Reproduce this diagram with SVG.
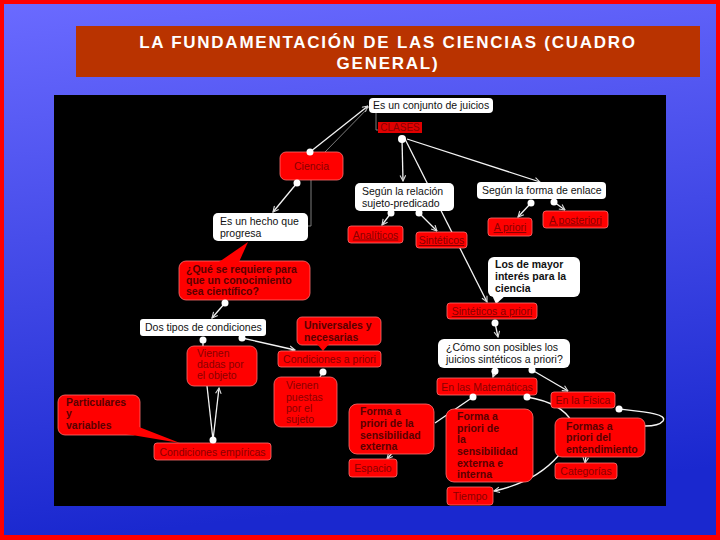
<svg xmlns="http://www.w3.org/2000/svg" width="720" height="540" viewBox="0 0 720 540">
<defs>
<linearGradient id="bg" x1="0" y1="0" x2="0.15" y2="1">
<stop offset="0" stop-color="#6a6aff"/>
<stop offset="1" stop-color="#1a28cf"/>
</linearGradient>
<marker id="arr" viewBox="0 0 10 10" refX="9" refY="5" markerWidth="7" markerHeight="7" orient="auto" markerUnits="userSpaceOnUse">
<path d="M1,1 L9,5 L1,9" fill="none" stroke="#d8d8d8" stroke-width="1.6"/>
</marker>
<style>
.w{fill:#ffffff}
.r{fill:#ff0000;stroke:#ff7070;stroke-width:0.8}
.t{font-family:"Liberation Sans",Arial,sans-serif;font-size:10.5px;fill:#111}
.tb{font-family:"Liberation Sans",Arial,sans-serif;font-size:10.5px;font-weight:bold;fill:#111}
.rt{font-family:"Liberation Sans",Arial,sans-serif;font-size:10.5px;fill:#8a0000}
.rb{font-family:"Liberation Sans",Arial,sans-serif;font-size:10.5px;font-weight:bold;fill:#5a0000}
.u{text-decoration:underline}
.c{text-anchor:middle}
.ln{fill:none;stroke:#f4f4f4;stroke-width:1.3}
.gl{fill:none;stroke:#8a8a8a;stroke-width:0.9}
.dot{fill:#ffffff}
</style>
</defs>
<rect x="0" y="0" width="720" height="540" fill="#ff0000"/>
<rect x="4" y="4" width="712" height="531" fill="url(#bg)"/>
<g id="title">
<rect x="76" y="26" width="624" height="51" fill="#b93300"/>
<text x="388" y="48" text-anchor="middle" font-family="'Liberation Sans',Arial,sans-serif" font-size="17" font-weight="bold" letter-spacing="1.75" fill="#ffffff">LA FUNDAMENTACIÓN DE LAS CIENCIAS (CUADRO</text>
<text x="388" y="69" text-anchor="middle" font-family="'Liberation Sans',Arial,sans-serif" font-size="17" font-weight="bold" letter-spacing="1.75" fill="#ffffff">GENERAL)</text>
</g>
<rect id="panel" x="54" y="95" width="612" height="411" fill="#000000"/>
<g id="connectors">
<path class="ln" d="M310,152 L368,106" marker-end="url(#arr)"/>
<path class="gl" d="M325,152 L372,104"/>
<path class="gl" d="M376,113 L376,130 L378,130"/>
<path class="ln" d="M402,139 L403,181" marker-end="url(#arr)"/>
<path class="ln" d="M405,139 L487,302" marker-end="url(#arr)"/>
<path class="ln" d="M407,139 L540,182" marker-end="url(#arr)"/>
<path class="ln" d="M297,183 L273,212" marker-end="url(#arr)"/>
<path class="gl" d="M311,180 L311,226 L308,226"/>
<path class="ln" d="M391,213 L382,225" marker-end="url(#arr)"/>
<path class="ln" d="M419,213 L437,231" marker-end="url(#arr)"/>
<path class="ln" d="M531,203 L518,217" marker-end="url(#arr)"/>
<path class="ln" d="M554,202 L565,210" marker-end="url(#arr)"/>
<path class="ln" d="M495,323 L498,337" marker-end="url(#arr)"/>
<path class="ln" d="M495,371 L493,377" marker-end="url(#arr)"/>
<path class="ln" d="M532,370 L568,391" marker-end="url(#arr)"/>
<path class="ln" d="M473,397 L435,423"/>
<path class="ln" d="M393,452 L387,459" marker-end="url(#arr)"/>
<path class="ln" d="M527,397 Q562,403 572,422 L559,455 Q536,482 494,491" marker-end="url(#arr)"/>
<path class="ln" d="M619,409 C645,412 668,414 663,421 C659,426 650,426 645,426"/>
<path class="ln" d="M586,456 L585,463" marker-end="url(#arr)"/>
<path class="ln" d="M225,303 L212,318" marker-end="url(#arr)"/>
<path class="ln" d="M203,340 L203,346"/>
<path class="ln" d="M242,338 L295,350" marker-end="url(#arr)"/>
<path class="ln" d="M323,372 L320,377"/>
<path class="ln" d="M213,440 L207,386"/>
<path class="ln" d="M213,440 L219,388" marker-end="url(#arr)"/>
</g>
<g id="n-conjunto"><rect class="w" x="369" y="98" width="124" height="15" rx="4"/><text class="t" x="373" y="109">Es un conjunto de juicios</text></g>
<g id="n-clases"><rect x="378" y="122" width="44" height="11" fill="#e00000"/><text class="rt c" x="400" y="131" font-size="10" style="font-size:10px" fill="#6a0000">CLASES</text></g>
<g id="n-ciencia"><rect class="r" x="280" y="152" width="63" height="28" rx="6"/><text class="rt c" x="311.5" y="169.5">Ciencia</text></g>
<g id="n-relacion"><rect class="w" x="355" y="183" width="99" height="28" rx="5"/><text class="t" x="362" y="195">Según la relación</text><text class="t" x="362" y="207">sujeto-predicado</text></g>
<g id="n-enlace"><rect class="w" x="477" y="182" width="129" height="17" rx="4"/><text class="t" x="482" y="194">Según la forma de enlace</text></g>
<g id="n-apriori"><rect class="r" x="488" y="218" width="44" height="18" rx="3"/><text class="rt c u" x="510" y="231">A priori</text></g>
<g id="n-aposteriori"><rect class="r" x="543" y="211" width="65" height="17" rx="3"/><text class="rt c u" x="575.5" y="223.5">A posteriori</text></g>
<g id="n-interes"><rect class="w" x="488" y="257" width="92" height="40" rx="6"/><polygon class="w" points="492,295 496,304 506,295"/><text class="tb" x="495" y="268">Los de mayor</text><text class="tb" x="495" y="280">interés para la</text><text class="tb" x="495" y="292">ciencia</text></g>
<g id="n-analiticos"><rect class="r" x="348" y="226" width="55" height="17" rx="3"/><text class="rt c u" x="375.5" y="238.5">Analíticos</text></g>
<g id="n-sinteticos"><rect class="r" x="416" y="232" width="51" height="16" rx="3"/><text class="rt c u" x="441.5" y="244">Sintéticos</text></g>
<g id="n-hecho"><rect class="w" x="213" y="213" width="95" height="28" rx="5"/><text class="t" x="220" y="225">Es un hecho que</text><text class="t" x="220" y="236.5">progresa</text></g>
<g id="n-requiere"><rect class="r" x="179" y="261" width="131" height="39" rx="7"/><polygon points="219,262 248,242 239,262" fill="#ff0000"/><text class="rb" x="186" y="272.5">¿Qué se requiere para</text><text class="rb" x="186" y="283.5">que un conocimiento</text><text class="rb" x="186" y="294.5">sea científico?</text></g>
<g id="n-sintapriori"><rect class="r" x="447" y="303" width="90" height="16" rx="3"/><text class="rt c u" x="492" y="315">Sintéticos a priori</text></g>
<g id="n-dostipos"><rect class="w" x="140" y="319" width="126" height="17" rx="3"/><text class="t" x="145" y="331">Dos tipos de condiciones</text></g>
<g id="n-universales"><rect class="r" x="297" y="317" width="84" height="28" rx="5"/><polygon points="317,344 323,351 329,344" fill="#ff0000"/><text class="rb" x="304" y="329">Universales y</text><text class="rb" x="304" y="340.5">necesarias</text></g>
<g id="n-condapriori"><rect class="r" x="278" y="351" width="103" height="16" rx="3"/><text class="rt c" x="329.5" y="363">Condiciones a priori</text></g>
<g id="n-dadas"><rect class="r" x="187" y="346" width="70" height="40" rx="7"/><text class="rt" x="197" y="357">Vienen</text><text class="rt" x="197" y="368">dadas por</text><text class="rt" x="197" y="379">el objeto</text></g>
<g id="n-puestas"><rect class="r" x="274" y="377" width="63" height="50" rx="7"/><text class="rt" x="286" y="389">Vienen</text><text class="rt" x="286" y="400.5">puestas</text><text class="rt" x="286" y="411.5">por el</text><text class="rt" x="286" y="422.5">sujeto</text></g>
<g id="n-como"><rect class="w" x="438" y="339" width="132" height="29" rx="6"/><text class="t" x="446" y="351">¿Cómo son posibles los</text><text class="t" x="446" y="363">juicios sintéticos a priori?</text></g>
<g id="n-matematicas"><rect class="r" x="437" y="378" width="100" height="17" rx="3"/><text class="rt c" x="487" y="390.5">En las Matemáticas</text></g>
<g id="n-fisica"><rect class="r" x="551" y="392" width="64" height="16" rx="3"/><text class="rt c" x="583" y="404">En la Física</text></g>
<g id="n-particulares"><rect class="r" x="58" y="395" width="82" height="40" rx="7"/><polygon points="126,434 180,443 139,427" fill="#ff0000"/><text class="rb" x="66" y="406">Particulares</text><text class="rb" x="66" y="417">y</text><text class="rb" x="66" y="428.5">variables</text></g>
<g id="n-empiricas"><rect class="r" x="154" y="443" width="117" height="17" rx="3"/><text class="rt c" x="212.5" y="455.5">Condiciones empíricas</text></g>
<g id="n-externa"><rect class="r" x="349" y="404" width="85" height="50" rx="8"/><text class="rb" x="360" y="415">Forma a</text><text class="rb" x="360" y="427">priori de la</text><text class="rb" x="360" y="439">sensibilidad</text><text class="rb" x="360" y="450">externa</text></g>
<g id="n-espacio"><rect class="r" x="349" y="459" width="48" height="18" rx="3"/><text class="rt c" x="373" y="472">Espacio</text></g>
<g id="n-interna"><rect class="r" x="446" y="409" width="87" height="73" rx="8"/><text class="rb" x="457" y="420">Forma a</text><text class="rb" x="457" y="431.5">priori de</text><text class="rb" x="457" y="443">la</text><text class="rb" x="457" y="455">sensibilidad</text><text class="rb" x="457" y="466.5">externa e</text><text class="rb" x="457" y="478">interna</text></g>
<g id="n-tiempo"><rect class="r" x="447" y="487" width="46" height="18" rx="3"/><text class="rt c" x="470" y="500">Tiempo</text></g>
<g id="n-entendimiento"><rect class="r" x="555" y="418" width="90" height="39" rx="7"/><text class="rb" x="566" y="429.5">Formas a</text><text class="rb" x="566" y="441">priori del</text><text class="rb" x="566" y="452.5">entendimiento</text></g>
<g id="n-categorias"><rect class="r" x="555" y="463" width="62" height="16" rx="3"/><text class="rt c" x="586" y="475">Categorías</text></g>
<g id="connector-dots">
<circle class="dot" cx="310" cy="152" r="3.5"/>
<circle class="dot" cx="402" cy="139" r="4"/>
<circle class="dot" cx="297" cy="183" r="3.5"/>
<circle class="dot" cx="391" cy="213" r="3.5"/>
<circle class="dot" cx="419" cy="213" r="3.5"/>
<circle class="dot" cx="531" cy="203" r="3.5"/>
<circle class="dot" cx="554" cy="202" r="3.5"/>
<circle class="dot" cx="495" cy="323" r="3.5"/>
<circle class="dot" cx="495" cy="371" r="3.5"/>
<circle class="dot" cx="532" cy="370" r="3.5"/>
<circle class="dot" cx="473" cy="397" r="3.5"/>
<circle class="dot" cx="527" cy="397" r="3.5"/>
<circle class="dot" cx="619" cy="409" r="3.5"/>
<circle class="dot" cx="225" cy="303" r="3.5"/>
<circle class="dot" cx="203" cy="340" r="3.5"/>
<circle class="dot" cx="242" cy="338" r="3.5"/>
<circle class="dot" cx="323" cy="372" r="3.5"/>
<circle class="dot" cx="213" cy="440" r="3.5"/>
</g>
</svg>
